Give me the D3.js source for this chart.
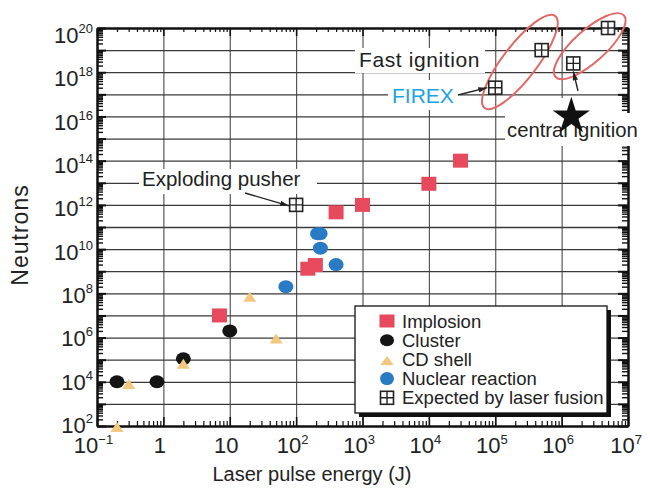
<!DOCTYPE html>
<html>
<head>
<meta charset="utf-8">
<script src="https://cdn.jsdelivr.net/npm/d3@7"></script>
<style>
  body { margin: 0; background: #fff; }
  text { font-family: "Liberation Sans", Arial, Helvetica, sans-serif; }
</style>
</head>
<body>
<svg id="chart" width="650" height="488"></svg>
<script>
// Measured yields: [laser pulse energy (J), neutrons]
const implosion = [[7, 1e7], [150, 1.3e9], [195, 1.9e9], [400, 4.6e11], [1000, 1e12], [1e4, 9e12], [3e4, 1e14]];
const cluster   = [[0.2, 1e4], [0.8, 1e4], [2, 1.1e5], [10, 2e6]];
const cdShell   = [[0.2, 90], [0.3, 8e3], [2, 6.5e4], [20, 7e7], [50, 9e5]];
const nuclear   = [[70, 2e8], [210, 5e10], [230, 5e10], [232, 1.1e10], [400, 2e9]];
const expected  = [[100, 1e12], [1e5, 2e17], [5e5, 1e19], [1.5e6, 2.5e18], [5e6, 1e20]];
const centralIgnition = [[1.4e6, 1e16]];

// Axis decades
const xTickExp = [-1, 0, 1, 2, 3, 4, 5, 6, 7];
const yTickExp = [2, 4, 6, 8, 10, 12, 14, 16, 18, 20];

const legendLabels = ["Implosion", "Cluster", "CD shell", "Nuclear reaction", "Expected by laser fusion"];

const colors = { implosion: "#e64a5c", cluster: "#141414", cdShell: "#f4c67e", nuclear: "#2a7bc6", box: "#222" };

const plot = { left: 97, right: 628, top: 28, bottom: 426 };

const svg = d3.select("#chart");
const x = d3.scaleLog().domain([1e-1, 1e7]).range([plot.left, plot.right]);
const y = d3.scaleLog().domain([1e2, 1e20]).range([plot.bottom, plot.top]);

const xDec = d3.range(-1, 8).map(e => Math.pow(10, e));
const yDec = d3.range(2, 21).map(e => Math.pow(10, e));
const minorOf = decs => {
  const out = [];
  for (let i = 0; i < decs.length - 1; i++) for (let m = 2; m <= 9; m++) out.push(m * decs[i]);
  return out;
};
const xMinor = minorOf(xDec), yMinor = minorOf(yDec);

// ---- grid ----
const pw = plot.right - plot.left, ph = plot.bottom - plot.top;
const gridV = svg.append("g").attr("transform", `translate(0,${plot.bottom})`)
  .call(d3.axisBottom(x).tickValues(xDec.slice(1, -1)).tickSize(-ph).tickFormat(""));
gridV.select(".domain").remove();
gridV.selectAll("line").attr("stroke", "#4a4a4a").attr("stroke-width", 1.1);

const gridH = svg.append("g").attr("transform", `translate(${plot.left},0)`)
  .call(d3.axisLeft(y).tickValues(yDec.slice(1, -1)).tickSize(-pw).tickFormat(""));
gridH.select(".domain").remove();
gridH.selectAll("line").attr("stroke", "#3a3a3a").attr("stroke-width", 1.3);

// ---- frame with inward ticks ----
function frame(axis, transform, values, size, width) {
  const g = svg.append("g").attr("transform", transform)
    .call(axis.tickValues(values).tickSizeInner(-size).tickSizeOuter(0).tickFormat(""));
  g.select(".domain").attr("stroke", "#111").attr("stroke-width", 2);
  g.selectAll(".tick line").attr("stroke", "#111").attr("stroke-width", width);
  return g;
}
frame(d3.axisBottom(x), `translate(0,${plot.bottom})`, xDec, 9, 1.6);
frame(d3.axisBottom(x), `translate(0,${plot.bottom})`, xMinor, 5, 1.2);
frame(d3.axisTop(x), `translate(0,${plot.top})`, xDec, 8, 1.6);
frame(d3.axisTop(x), `translate(0,${plot.top})`, xMinor, 4, 1.2);
frame(d3.axisLeft(y), `translate(${plot.left},0)`, yDec, 9, 2);
frame(d3.axisLeft(y), `translate(${plot.left},0)`, yMinor, 6, 1.4);
frame(d3.axisRight(y), `translate(${plot.right},0)`, yDec, 10, 2);
frame(d3.axisRight(y), `translate(${plot.right},0)`, yMinor, 6, 1.4);

// ---- tick labels ----
const tickFont = 22, supFont = 13;
const xl = svg.append("g");
xTickExp.forEach(e => {
  const t = xl.append("text")
    .attr("x", x(Math.pow(10, e)) - (e === 7 ? 2 : 3.5))
    .attr("y", 453)
    .attr("text-anchor", "middle")
    .attr("font-size", tickFont).attr("fill", "#222");
  if (e === 0) t.text("1");
  else if (e === 1) t.text("10");
  else {
    t.append("tspan").text("10");
    t.append("tspan").attr("font-size", supFont).attr("dy", -9).text(String(e).replace("-", "\u2212"));
  }
});
const yl = svg.append("g");
yTickExp.forEach(e => {
  const py = y(Math.pow(10, e));
  const t = yl.append("text")
    .attr("x", 93)
    .attr("y", py + 7 + (plot.bottom - py) * 0.02)
    .attr("text-anchor", "end")
    .attr("font-size", tickFont).attr("fill", "#222");
  t.append("tspan").text("10");
  t.append("tspan").attr("font-size", supFont).attr("dy", -10).text(e);
});

// axis titles
svg.append("text")
  .attr("x", 312).attr("y", 481)
  .attr("text-anchor", "middle")
  .attr("font-size", 20).attr("fill", "#222")
  .text("Laser pulse energy (J)");
svg.append("text")
  .attr("transform", "translate(28,235) rotate(-90)")
  .attr("text-anchor", "middle")
  .attr("font-size", 23).attr("letter-spacing", 1)
  .attr("fill", "#222")
  .text("Neutrons");

// ---- annotation backgrounds (clear grid behind labels) ----
const bg = svg.append("g").attr("fill", "#fff");
bg.append("rect").attr("x", 139).attr("y", 169).attr("width", 178).attr("height", 25);
bg.append("rect").attr("x", 355).attr("y", 48).attr("width", 130).attr("height", 25);
bg.append("rect").attr("x", 388).attr("y", 80).attr("width", 72).attr("height", 30);
bg.append("rect").attr("x", 513).attr("y", 98).attr("width", 108).attr("height", 48);
bg.append("rect").attr("x", 505).attr("y", 113).attr("width", 145).attr("height", 33);

// ---- ignition regions ----
const ell = svg.append("g").attr("fill", "none").attr("stroke", "#e06a68").attr("stroke-width", 2);
[
  { cx: x(2.35e5), cy: y(2.9e18), rx: 58, ry: 17, rot: -52.5 },
  { cx: x(2.65e6), cy: y(1.5e19), rx: 46, ry: 16, rot: -42 }
].forEach(d => {
  ell.append("ellipse")
    .attr("transform", `translate(${d.cx},${d.cy}) rotate(${d.rot})`)
    .attr("rx", d.rx).attr("ry", d.ry);
});

// ---- annotation labels ----
const ann = svg.append("g").attr("fill", "#222");
ann.append("text").attr("x", 142).attr("y", 186).attr("font-size", 20.5).text("Exploding pusher");
ann.append("text").attr("x", 359).attr("y", 67).attr("font-size", 21).attr("letter-spacing", 0.6).text("Fast ignition");
ann.append("text").attr("x", 392).attr("y", 103).attr("font-size", 21).attr("fill", "#1ba3e3").text("FIREX");
ann.append("text").attr("x", 507).attr("y", 137).attr("font-size", 20.3).text("central ignition");

// arrows
svg.append("defs").append("marker")
  .attr("id", "arrowhead").attr("viewBox", "0 0 10 6")
  .attr("refX", 10).attr("refY", 3)
  .attr("markerWidth", 9).attr("markerHeight", 5.5)
  .attr("markerUnits", "userSpaceOnUse")
  .attr("orient", "auto")
  .append("path").attr("d", "M0,0 L10,3 L0,6 Z").attr("fill", "#222");
const arrows = [
  { x1: 245, y1: 193, x2: x(100) - 7, y2: y(1e12) + 1 },
  { x1: 458, y1: 95, x2: x(1e5) - 8, y2: y(2e17) },
  { x1: 578, y1: 91, x2: x(1.5e6), y2: y(2.5e18) + 8 }
];
svg.append("g").selectAll("line").data(arrows).join("line")
  .attr("x1", d => d.x1).attr("y1", d => d.y1)
  .attr("x2", d => d.x2).attr("y2", d => d.y2)
  .attr("stroke", "#222").attr("stroke-width", 1.4)
  .attr("marker-end", "url(#arrowhead)");

// ---- markers ----
const tri = (w, h) => `M0,${-h / 2} L${w / 2},${h / 2} L${-w / 2},${h / 2} Z`;
const marks = svg.append("g");

marks.append("g").selectAll("ellipse").data(cluster).join("ellipse")
  .attr("cx", d => x(d[0])).attr("cy", d => y(d[1]))
  .attr("rx", 7.5).attr("ry", 6.5).attr("fill", colors.cluster);

marks.append("g").selectAll("path").data(cdShell).join("path")
  .attr("transform", d => `translate(${x(d[0])},${y(d[1])})`)
  .attr("d", tri(13, 10)).attr("fill", colors.cdShell);

marks.append("g").selectAll("ellipse").data(nuclear).join("ellipse")
  .attr("cx", d => x(d[0])).attr("cy", d => y(d[1]))
  .attr("rx", 7.5).attr("ry", 6.5).attr("fill", colors.nuclear);

marks.append("g").selectAll("rect").data(implosion).join("rect")
  .attr("x", d => x(d[0]) - 7.5).attr("y", d => y(d[1]) - 7)
  .attr("width", 15).attr("height", 14).attr("fill", colors.implosion);

function boxCross(g, cx, cy, s) {
  g.append("rect").attr("x", cx - s / 2).attr("y", cy - s / 2).attr("width", s).attr("height", s)
    .attr("fill", "#fff").attr("stroke", colors.box).attr("stroke-width", 1.6);
  g.append("path").attr("d", `M${cx},${cy - s / 2}V${cy + s / 2}M${cx - s / 2},${cy}H${cx + s / 2}`)
    .attr("stroke", colors.box).attr("stroke-width", 1.4);
}
const expG = marks.append("g");
expected.forEach(d => boxCross(expG, x(d[0]), y(d[1]), 13));

marks.append("g").selectAll("path").data(centralIgnition).join("path")
  .attr("transform", d => `translate(${x(d[0])},${y(d[1])})`)
  .attr("d", d3.symbol(d3.symbolStar, 430)).attr("fill", "#111");

// ---- legend ----
const lg = svg.append("g");
lg.append("rect").attr("x", 359).attr("y", 310).attr("width", 252).attr("height", 107).attr("fill", "#111");
lg.append("rect").attr("x", 355).attr("y", 306).attr("width", 252).attr("height", 107)
  .attr("fill", "#fff").attr("stroke", "#111").attr("stroke-width", 1.3);
const symX = 387, textX = 402, row0 = 321, rowStep = 19.2;
legendLabels.forEach((label, i) => {
  const cy = row0 + i * rowStep;
  if (i === 0) lg.append("rect").attr("x", symX - 7.5).attr("y", cy - 6.5).attr("width", 15).attr("height", 13).attr("fill", colors.implosion);
  if (i === 1) lg.append("ellipse").attr("cx", symX).attr("cy", cy).attr("rx", 7).attr("ry", 6).attr("fill", colors.cluster);
  if (i === 2) lg.append("path").attr("transform", `translate(${symX},${cy + 1})`).attr("d", tri(13, 9)).attr("fill", colors.cdShell);
  if (i === 3) lg.append("ellipse").attr("cx", symX).attr("cy", cy).attr("rx", 7).attr("ry", 6.5).attr("fill", colors.nuclear);
  if (i === 4) boxCross(lg, symX, cy, 13);
  lg.append("text").attr("x", textX).attr("y", cy + 6.5).attr("font-size", 18.5).attr("fill", "#222").text(label);
});
</script>
</body>
</html>
